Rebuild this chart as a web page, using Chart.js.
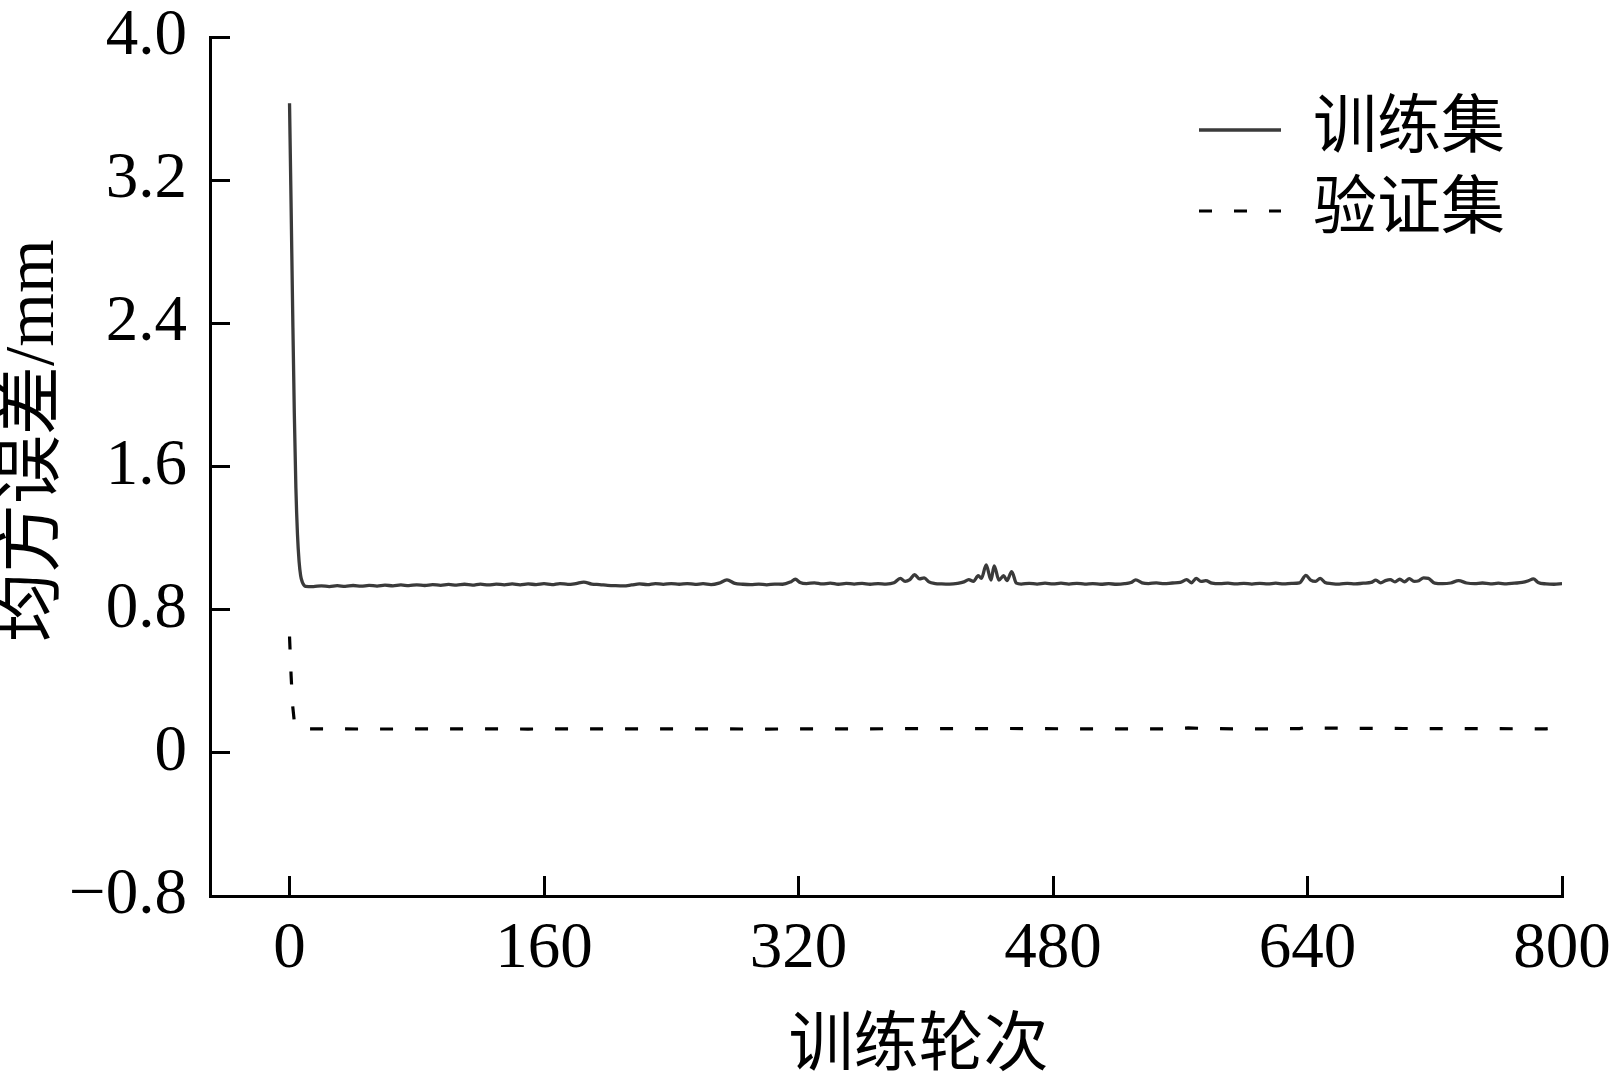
<!DOCTYPE html>
<html>
<head>
<meta charset="utf-8">
<script src="https://cdn.jsdelivr.net/npm/chart.js@4.4.1/dist/chart.umd.min.js"></script>
<style>
    html, body { margin: 0; padding: 0; background: #fff; }
    #wrap { width: 1610px; height: 1089px; position: relative; }
</style>
</head>
<body>
<div id="wrap"><canvas id="lossChart"></canvas></div>
<script>
// ticks
const xTicks = [0, 160, 320, 480, 640, 800]
const yTicks = [-0.8, 0, 0.8, 1.6, 2.4, 3.2, 4.0]
const yTickLabels = ["\u22120.8", "0", "0.8", "1.6", "2.4", "3.2", "4.0"]

// training set (solid line)
const trainEpochs = [
    0, 1, 2, 3, 4, 5, 6, 7, 8, 9, 10,
    15, 20, 25, 30, 35, 40, 45, 50, 55, 60,
    65, 70, 75, 80, 85, 90, 95, 100, 105, 110,
    115, 120, 125, 130, 135, 140, 145, 150, 155, 160,
    165, 170, 175, 180, 185, 190, 195, 200, 205, 210,
    215, 220, 225, 230, 235, 240, 245, 250, 255, 260,
    265, 270, 275, 280, 285, 290, 295, 300, 305, 310,
    315, 318, 321, 325, 330, 335, 340, 345, 350, 355,
    360, 365, 370, 375, 380, 384, 387, 390, 393, 396,
    399, 402, 406, 410, 415, 420, 424, 427, 430, 433,
    435, 438, 441, 443, 446, 449, 451, 454, 457, 460,
    465, 470, 475, 480, 485, 490, 495, 500, 505, 510,
    515, 520, 525, 529, 532, 536, 540, 545, 550, 555,
    560, 564, 567, 570, 573, 576, 580, 585, 590, 595,
    600, 605, 610, 615, 620, 625, 630, 635, 639, 642,
    645, 648, 651, 655, 660, 665, 670, 675, 680, 683,
    686, 689, 692, 695, 698, 701, 704, 707, 710, 713,
    716, 720, 725, 730, 735, 740, 745, 750, 755, 760,
    765, 770, 775, 779, 782, 785, 790, 795, 800
]
const trainLoss = [
    3.63, 3.05, 2.45, 1.90, 1.48, 1.22, 1.07, 0.99, 0.955, 0.938, 0.930,
    0.929, 0.933, 0.929, 0.934, 0.930, 0.935, 0.931, 0.936, 0.932, 0.937,
    0.933, 0.938, 0.934, 0.939, 0.935, 0.940, 0.936, 0.941, 0.937, 0.942,
    0.937, 0.943, 0.938, 0.943, 0.939, 0.944, 0.939, 0.944, 0.940, 0.945,
    0.940, 0.946, 0.941, 0.946, 0.954, 0.943, 0.940, 0.936, 0.934, 0.933,
    0.938, 0.944, 0.940, 0.946, 0.941, 0.946, 0.942, 0.946, 0.941, 0.945,
    0.940, 0.948, 0.966, 0.947, 0.942, 0.940, 0.943, 0.939, 0.943, 0.942,
    0.955, 0.970, 0.952, 0.946, 0.950, 0.944, 0.948, 0.942, 0.947, 0.943,
    0.947, 0.942, 0.946, 0.943, 0.950, 0.975, 0.958, 0.968, 0.995, 0.972,
    0.978, 0.955, 0.946, 0.944, 0.943, 0.947, 0.955, 0.968, 0.958, 0.990,
    0.975, 1.050, 0.965, 1.045, 0.965, 0.990, 0.962, 1.012, 0.948, 0.943,
    0.947, 0.943, 0.948, 0.944, 0.948, 0.943, 0.947, 0.943, 0.946, 0.942,
    0.945, 0.942, 0.945, 0.952, 0.966, 0.950, 0.946, 0.950, 0.945, 0.949,
    0.952, 0.968, 0.950, 0.975, 0.958, 0.962, 0.948, 0.945, 0.948, 0.944,
    0.947, 0.943, 0.947, 0.944, 0.948, 0.944, 0.947, 0.950, 0.992, 0.965,
    0.958, 0.975, 0.952, 0.946, 0.943, 0.947, 0.944, 0.948, 0.952, 0.965,
    0.950, 0.962, 0.968, 0.955, 0.970, 0.956, 0.973, 0.958, 0.962, 0.978,
    0.975, 0.948, 0.945, 0.949, 0.962, 0.949, 0.945, 0.949, 0.944, 0.948,
    0.944, 0.948, 0.952, 0.962, 0.972, 0.952, 0.944, 0.942, 0.945
]

// validation set (dashed line)
const validEpochs = [0, 1, 2, 3, 4, 6, 10, 50, 100, 150, 200, 250, 300, 350, 400,
    450, 500, 550, 565, 580, 600, 635, 642, 650, 700, 750, 790, 800]
const validLoss = [0.65, 0.43, 0.26, 0.175, 0.148, 0.137, 0.134, 0.133, 0.134, 0.133, 0.134, 0.134, 0.133, 0.134, 0.135,
    0.136, 0.134, 0.134, 0.139, 0.135, 0.134, 0.135, 0.147, 0.138, 0.136, 0.135, 0.134, 0.143]

const serif = "'Liberation Serif', 'Noto Sans CJK SC', serif"

function toPoints(xs, ys) {
    return xs.map(function(x, i) { return {x: x, y: ys[i]} })
}

// moves the legend into the upper right of the plot
const legendSpot = {
    id: "legendSpot",
    afterLayout(chart) {
        let lg = chart.legend
        lg.left = 1182
        lg.top = 81
    }
}

let ctx = document.getElementById("lossChart").getContext("2d")
let lossChart = new Chart(ctx, {
    type: "line",
    data: {
        datasets: [
            {
                label: "训练集",
                data: toPoints(trainEpochs, trainLoss),
                borderColor: "#3a3a3a",
                backgroundColor: "#3a3a3a",
                borderWidth: 3.3,
                pointRadius: 0,
                cubicInterpolationMode: "monotone"
            },
            {
                label: "验证集",
                data: toPoints(validEpochs, validLoss),
                borderColor: "#000",
                backgroundColor: "#000",
                borderWidth: 3.2,
                borderDash: [13, 22],
                pointRadius: 0,
                tension: 0
            }
        ]
    },
    options: {
        responsive: true,
        maintainAspectRatio: false,
        animation: false,
        events: [],
        layout: { padding: { left: 0, right: 48, top: 37, bottom: 0 } },
        scales: {
            x: {
                type: "linear",
                min: -50,
                max: 800,
                afterBuildTicks: function(scale) {
                    scale.ticks = xTicks.map(function(v) { return {value: v} })
                },
                afterFit: function(scale) {
                    scale.height = 193
                    scale.paddingLeft = 0
                    scale.paddingRight = 0
                },
                grid: { drawOnChartArea: false, drawTicks: true, tickLength: -20, tickColor: "#000", tickWidth: 3 },
                border: { display: true, color: "#000", width: 3 },
                ticks: {
                    autoSkip: false,
                    maxRotation: 0,
                    color: "#000",
                    padding: 35,
                    font: { family: serif, size: 65, lineHeight: 1.2 },
                    callback: function(v) { return String(v) }
                },
                title: {
                    display: true,
                    text: "\u3000训练轮次",
                    color: "#000",
                    font: { family: serif, size: 65, lineHeight: 1.2 },
                    padding: { top: 0, bottom: 2 }
                }
            },
            y: {
                min: -0.8,
                max: 4.0,
                afterBuildTicks: function(scale) {
                    scale.ticks = yTicks.map(function(v) { return {value: v} })
                },
                afterFit: function(scale) {
                    scale.width = 210
                    scale.paddingTop = 0
                    scale.paddingBottom = 0
                },
                grid: { drawOnChartArea: false, drawTicks: true, tickLength: -20, tickColor: "#000", tickWidth: 3 },
                border: { display: true, color: "#000", width: 3 },
                ticks: {
                    color: "#000",
                    padding: 43,
                    font: { family: serif, size: 65, lineHeight: 1.0 },
                    callback: function(v, i) { return yTickLabels[i] }
                },
                title: {
                    display: true,
                    text: "\u2002\u2005均方误差/mm",
                    color: "#000",
                    font: { family: serif, size: 69, lineHeight: 1.0 },
                    padding: 0
                }
            }
        },
        plugins: {
            tooltip: { enabled: false },
            legend: {
                position: "chartArea",
                align: "start",
                labels: {
                    usePointStyle: true,
                    pointStyle: "line",
                    pointStyleWidth: 82,
                    color: "#000",
                    padding: 17,
                    font: { family: serif, size: 64 },
                    // the point style drops the dash, so copy the line look back in
                    generateLabels: function(chart) {
                        let items = Chart.defaults.plugins.legend.labels.generateLabels(chart)
                        items.forEach(function(item) {
                            let ds = chart.data.datasets[item.datasetIndex]
                            item.lineDash = ds.borderDash || []
                            item.lineWidth = ds.borderWidth
                            item.strokeStyle = ds.borderColor
                        })
                        return items
                    }
                }
            }
        }
    },
    plugins: [legendSpot]
})
</script>
</body>
</html>
